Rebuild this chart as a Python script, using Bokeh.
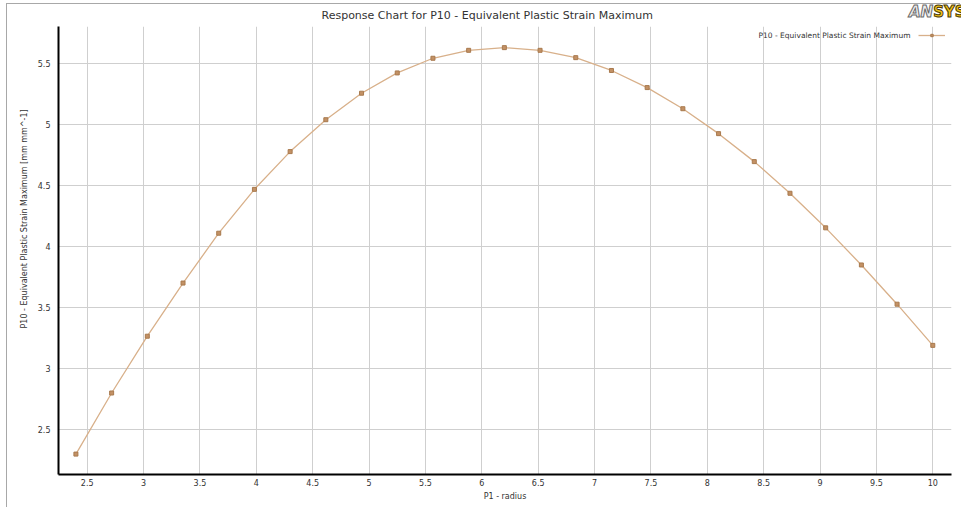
from bokeh.plotting import figure
from bokeh.models import Range1d, FixedTicker, Label, Legend, LegendItem, Title, Div
from bokeh.layouts import column
from bokeh.embed import file_html
from bokeh.resources import INLINE

# ---- data ----
radius = [2.4, 2.7167, 3.0333, 3.35, 3.6667, 3.9833, 4.3, 4.6167, 4.9333, 5.25,
          5.5667, 5.8833, 6.2, 6.5167, 6.8333, 7.15, 7.4667, 7.7833, 8.1, 8.4167,
          8.7333, 9.05, 9.3667, 9.6833, 10.0]
strain = [2.30, 2.80, 3.265, 3.70, 4.108, 4.467, 4.776, 5.037, 5.254, 5.42,
          5.54, 5.605, 5.627, 5.605, 5.545, 5.44, 5.30, 5.127, 4.923, 4.694,
          4.435, 4.152, 3.848, 3.527, 3.19]
series_name = "P10 - Equivalent Plastic Strain Maximum"
x_ticks = [2.5, 3, 3.5, 4, 4.5, 5, 5.5, 6, 6.5, 7, 7.5, 8, 8.5, 9, 9.5, 10]
x_tick_labels = ["2.5", "3", "3.5", "4", "4.5", "5", "5.5", "6", "6.5", "7",
                 "7.5", "8", "8.5", "9", "9.5", "10"]
y_ticks = [2.5, 3, 3.5, 4, 4.5, 5, 5.5]
y_tick_labels = ["2.5", "3", "3.5", "4", "4.5", "5", "5.5"]
chart_title = "Response Chart for P10 - Equivalent Plastic Strain Maximum"
x_label = "P1 - radius"
y_label = "P10 - Equivalent Plastic Strain Maximum  [mm mm^-1]"

FONT = "DejaVu Sans"
TXT = "#333333"
W, H = 954, 504

p = figure(width=W, height=H, output_backend="svg", toolbar_location=None,
           x_range=Range1d(2.2455, 10.166), y_range=Range1d(2.133, 5.80),
           min_border_left=51, min_border_right=10, min_border_top=21,
           min_border_bottom=34)
p.styles = {"margin-left": "6px", "margin-top": "3px",
            "border-left": "1px solid #a8a8a8", "border-top": "1px solid #a8a8a8"}
p.outline_line_color = None
p.background_fill_color = "white"
p.border_fill_color = "white"

# title (left aligned with an offset so it sits where the reference has it)
p.title.text = chart_title
p.title.align = "left"
p.title.vertical_align = "middle"
p.title.offset = 263
p.title.standoff = 7
p.title.text_font = FONT
p.title.text_font_size = "11px"
p.title.text_font_style = "normal"
p.title.text_color = TXT

for ax, ticks, labels in ((p.xaxis[0], x_ticks, x_tick_labels),
                          (p.yaxis[0], y_ticks, y_tick_labels)):
    ax.ticker = FixedTicker(ticks=ticks)
    ax.major_label_overrides = {t: l for t, l in zip(ticks, labels)}
    ax.axis_line_color = "black"
    ax.axis_line_width = 2
    ax.major_tick_in = 0
    ax.major_tick_out = 0
    ax.minor_tick_in = 0
    ax.minor_tick_out = 0
    ax.major_label_text_font = FONT
    ax.major_label_text_font_size = "8px"
    ax.major_label_text_color = TXT
    ax.axis_label_text_font = FONT
    ax.axis_label_text_font_size = "8px"
    ax.axis_label_text_font_style = "normal"
    ax.axis_label_text_color = TXT

p.xaxis.axis_label = x_label
p.xaxis.major_label_standoff = 4
p.xaxis.axis_label_standoff = 3
p.yaxis.major_label_standoff = 8

# y-axis label as a side title (allows shifting it along the axis)
p.add_layout(Title(text=y_label, align="left", offset=146, standoff=11,
                   text_font=FONT, text_font_size="8px",
                   text_font_style="normal", text_color=TXT), "left")

p.xgrid.ticker = FixedTicker(ticks=x_ticks)
p.ygrid.ticker = FixedTicker(ticks=y_ticks)
p.grid.grid_line_color = "#cfcfcf"
p.grid.grid_line_width = 1

lr = p.line(radius, strain, line_color="#D8B08A", line_width=1.3)
sr = p.scatter(radius, strain, marker="square", size=4,
               fill_color="#C39165", line_color="#A87A4E", line_width=1)

legend = Legend(items=[LegendItem(label=" ", renderers=[lr, sr])],
                location="top_right", margin=6, padding=0, spacing=0,
                glyph_width=27, glyph_height=6, label_height=6, label_width=0,
                label_standoff=0, label_text_font_size="4px",
                border_line_color=None, background_fill_alpha=0)
p.add_layout(legend)

# legend text (left of the swatch, as in the reference)
p.add_layout(Label(x=9.802, y=5.7265, text=series_name, text_align="right",
                   text_baseline="middle", text_font=FONT,
                   text_font_size="7.5px", text_color=TXT))

logo = Div(text=(
    '<span style="font-family:\'DejaVu Sans\';font-weight:bold;font-style:italic;'
    'font-size:15px;color:#eeeeee;-webkit-text-stroke:1px #6a6a6a;">AN</span>'
    '<span style="font-family:\'DejaVu Sans\';font-weight:bold;font-size:15px;'
    'color:#F2C21B;-webkit-text-stroke:1px #4a3a08;">SYS</span>'),
    styles={"position": "absolute", "left": "904px", "top": "-2px",
            "z-index": "10", "white-space": "nowrap", "line-height": "18px"})

open("out.html", "w").write(file_html(column(p, logo), INLINE))
